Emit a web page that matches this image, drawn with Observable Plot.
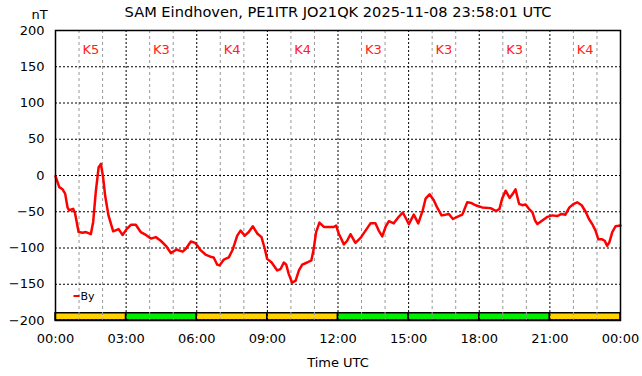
<!DOCTYPE html>
<html>
<head>
<meta charset="utf-8">
<script src="https://cdn.jsdelivr.net/npm/d3@7"></script>
<script src="https://cdn.jsdelivr.net/npm/@observablehq/plot@0.6"></script>
<style>
  html, body { margin: 0; padding: 0; background: #fff; }
</style>
</head>
<body>
<div id="chart"></div>
<script>
// Time in hours (UTC) and By values (nT)
const hours = [0, 0.16, 0.3, 0.41, 0.51, 0.58, 0.75, 0.83, 0.98, 1.15, 1.29, 1.5, 1.6, 1.71, 1.83, 1.93, 2.02, 2.11, 2.25, 2.45, 2.68, 2.85, 3.02, 3.2, 3.41, 3.62, 3.84, 4.05, 4.26, 4.47, 4.69, 4.9, 5.14, 5.4, 5.54, 5.75, 5.93, 6.03, 6.16, 6.37, 6.58, 6.72, 6.87, 6.97, 7.15, 7.36, 7.53, 7.72, 7.86, 8.04, 8.21, 8.38, 8.57, 8.75, 8.89, 8.99, 9.18, 9.42, 9.56, 9.7, 9.8, 9.91, 10.05, 10.2, 10.34, 10.48, 10.69, 10.87, 10.97, 11.07, 11.21, 11.4, 11.61, 11.82, 11.92, 12.03, 12.25, 12.39, 12.53, 12.74, 12.96, 13.17, 13.38, 13.59, 13.73, 13.88, 14.02, 14.16, 14.37, 14.58, 14.75, 14.9, 15.01, 15.22, 15.41, 15.6, 15.72, 15.89, 16.07, 16.21, 16.4, 16.57, 16.71, 16.88, 17.06, 17.28, 17.49, 17.67, 17.84, 18.12, 18.48, 18.72, 18.86, 18.97, 19.12, 19.29, 19.43, 19.54, 19.69, 19.83, 19.97, 20.11, 20.26, 20.37, 20.47, 20.68, 20.9, 21.1, 21.31, 21.5, 21.66, 21.83, 22.02, 22.16, 22.35, 22.52, 22.66, 22.8, 22.95, 23.06, 23.22, 23.33, 23.43, 23.53, 23.65, 23.79, 24.0];
const byValues = [-1, -16, -19, -25, -44, -48, -46, -52, -78, -79, -78, -81, -64, -23, 11, 16, -2, -28, -55, -77, -74, -82, -74, -68, -68, -78, -82, -87, -85, -90, -97, -107, -102, -105, -101, -91, -93, -97, -103, -109, -112, -113, -123, -124, -116, -113, -102, -83, -76, -83, -78, -70, -80, -85, -101, -115, -120, -131, -129, -120, -123, -136, -148, -145, -131, -123, -120, -117, -101, -78, -65, -71, -71, -71, -69, -80, -95, -90, -81, -93, -86, -76, -66, -66, -76, -84, -71, -63, -66, -57, -51, -60, -67, -54, -66, -48, -32, -26, -34, -44, -55, -54, -53, -60, -57, -54, -37, -38, -41, -44, -45, -49, -46, -32, -21, -31, -25, -19, -39, -41, -40, -46, -51, -62, -67, -62, -57, -55, -56, -53, -54, -44, -39, -37, -41, -50, -60, -67, -77, -88, -88, -90, -97, -92, -78, -70, -69];

// 3-hour K index blocks
const kpStart = [0, 3, 6, 9, 12, 15, 18, 21];
const kpEnd = [3, 6, 9, 12, 15, 18, 21, 24];
const kpLabels = ["K5", "K3", "K4", "K4", "K3", "K3", "K3", "K4"];

// Axis ticks
const xTicks = [0, 3, 6, 9, 12, 15, 18, 21, 24];
const xMinor = [1, 2, 4, 5, 7, 8, 10, 11, 13, 14, 16, 17, 19, 20, 22, 23];
const yTicks = [-200, -150, -100, -50, 0, 50, 100, 150, 200];
const yGrid = [-150, -100, -50, 0, 50, 100, 150];

const titleText = "SAM Eindhoven, PE1ITR JO21QK 2025-11-08 23:58:01 UTC";
const yLabel = "nT";
const xLabel = "Time UTC";
const seriesName = "By";

const series = hours.map((h, i) => ({h, v: byValues[i]}));
const kp = kpStart.map((s, i) => ({
  s, e: kpEnd[i], label: kpLabels[i], k: +kpLabels[i].slice(1)
}));
const kColor = k => (k >= 4 ? "#ffd200" : "#00f000");

const chart = Plot.plot({
  width: 642,
  height: 376,
  marginLeft: 55,
  marginRight: 22,
  marginTop: 30,
  marginBottom: 56,
  style: {fontFamily: "'DejaVu Sans', sans-serif", fontSize: "13px", color: "#000", background: "#fff"},
  x: {domain: [0, 24], ticks: xTicks, tickFormat: d => String(d % 24).padStart(2, "0") + ":00", tickSize: 0, tickPadding: 13, label: null},
  y: {domain: [-200, 200], ticks: yTicks, tickSize: 0, tickPadding: 11, label: null},
  marks: [
    // K index bar
    Plot.rect(kp, {x1: "s", x2: "e", y1: -200, y2: -190, fill: d => kColor(d.k), stroke: "#000", strokeWidth: 1.5}),
    // grid
    Plot.ruleX(xMinor, {stroke: "#999", strokeDasharray: "3,3", strokeWidth: 1}),
    Plot.ruleX(xTicks, {stroke: "#000", strokeDasharray: "2,2", strokeWidth: 1}),
    Plot.ruleY(yGrid, {stroke: "#000", strokeDasharray: "2,2", strokeWidth: 1}),
    Plot.ruleY([-200], {stroke: "#000", strokeDasharray: "2,2", strokeWidth: 1, dy: -0.5}),
    // K labels
    Plot.text(kp, {x: d => (d.s + d.e) / 2, y: 174, text: "label", fill: "#ff2020", fontSize: 13}),
    // data line
    Plot.line(series, {x: "h", y: "v", stroke: "#ff0000", strokeWidth: 2.5}),
    // legend
    Plot.dot([seriesName], {frameAnchor: "bottom-left", dx: 21, dy: -24.5, stroke: "#ff0000", strokeWidth: 2,
      symbol: {draw(ctx) { ctx.moveTo(-3, 0); ctx.lineTo(3, 0); }}}),
    Plot.text([seriesName], {frameAnchor: "bottom-left", dx: 25, dy: -24, lineAnchor: "middle", text: d => d, textAnchor: "start", fontSize: 11}),
    // frame
    Plot.frame({stroke: "#000", strokeWidth: 1.5}),
    // title and axis labels
    Plot.text([titleText], {frameAnchor: "top", dy: -18, lineAnchor: "middle", text: d => d, fontSize: 14.6}),
    Plot.text([yLabel], {frameAnchor: "top-left", dx: -24, dy: -16, lineAnchor: "middle", text: d => d, fontSize: 13}),
    Plot.text([xLabel], {frameAnchor: "bottom", dy: 42, lineAnchor: "middle", text: d => d, fontSize: 13})
  ]
});
document.getElementById("chart").appendChild(chart);
</script>
</body>
</html>
